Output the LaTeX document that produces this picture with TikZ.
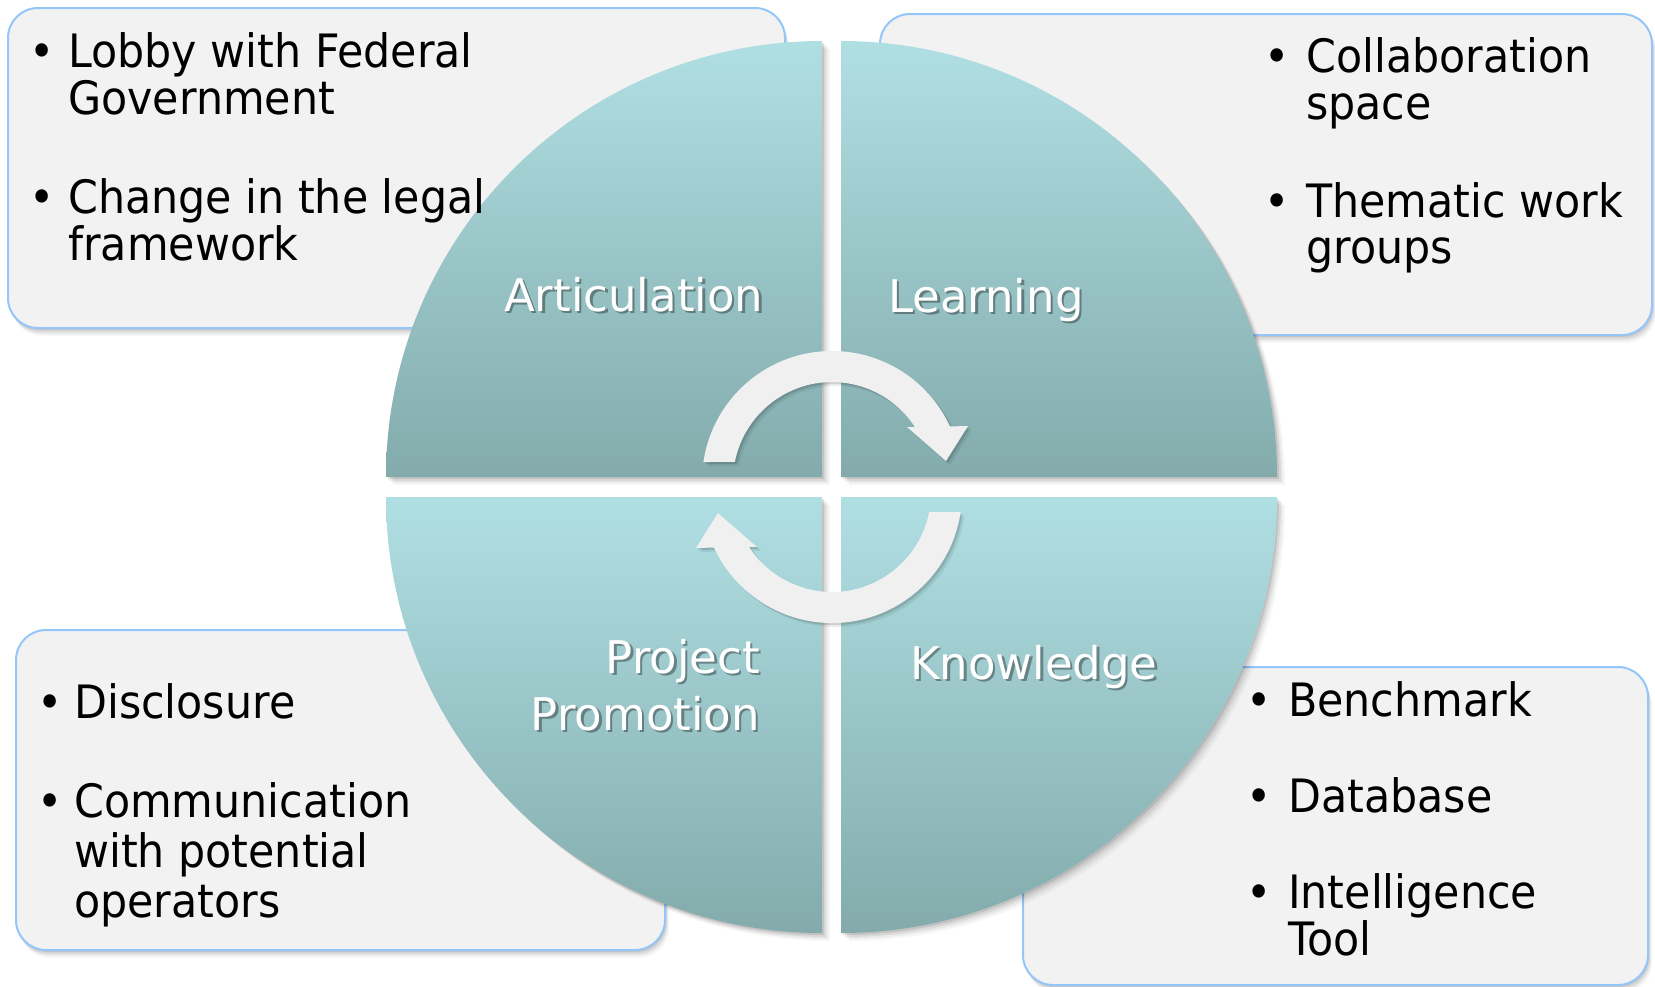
\documentclass[tikz,border=0pt]{standalone}
\usepackage{fontspec}
\setmainfont{DejaVu Sans}
\newfontfamily\bodyfont{DejaVu Sans}[FakeStretch=0.93]
\definecolor{boxfill}{RGB}{242,242,242}
\definecolor{boxline}{RGB}{148,198,250}
\definecolor{qtop}{RGB}{176,223,227}
\definecolor{qbot}{RGB}{131,171,172}
\definecolor{arrowfill}{RGB}{240,240,240}
\begin{document}
\begin{tikzpicture}[x=1pt,y=-1pt,
  infobox/.style={draw=boxline, line width=2pt, fill=boxfill, rounded corners=30pt, inner sep=0pt},
  bodytext/.style={anchor=base west, inner sep=0pt, font=\bodyfont\fontsize{46}{50}\selectfont, text=black},
  bulletdot/.style={anchor=base, inner sep=0pt, font=\bodyfont\fontsize{46}{50}\selectfont, text=black},
  labeltext/.style={inner sep=0pt, font=\fontsize{45}{50}\selectfont, text=white},
  labelshadow/.style={inner sep=0pt, font=\fontsize{45}{50}\selectfont, text=black, opacity=0.35},
  quad/.style={top color=qtop, bottom color=qbot},
  tlq/.style={insert path={(822,477) -- (386,477) arc[start angle=180, end angle=270, radius=436] -- cycle}},
  trq/.style={insert path={(841,477) -- (841,41) arc[start angle=270, end angle=360, radius=436] -- cycle}},
  brq/.style={insert path={(841,497) -- (1277,497) arc[start angle=0, end angle=90, radius=436] -- cycle}},
  blq/.style={insert path={(822,497) -- (822,933) arc[start angle=90, end angle=180, radius=436] -- cycle}},
  arrowpath/.style={insert path={(703.4,462) arc[start angle=188.4, end angle=335.2, radius=130]
      -- (968,426) -- (946,461) -- (907,427) -- (915,427.1)
      arc[start angle=327, end angle=191.1, radius=99] -- cycle}},
]
% background / bounding box
\fill[white] (0,0) rectangle (1655,986);
\useasboundingbox (0,0) rectangle (1655,986);

% ---- boxes with soft shadows ----
\foreach \o/\op in {2/0.09,4/0.07,6/0.05,8/0.03}{
  \fill[black, opacity=\op, rounded corners=30pt, shift={(\o*0.5,\o)}] (8,8) rectangle (785,328);
  \fill[black, opacity=\op, rounded corners=30pt, shift={(\o*0.5,\o)}] (880,14) rectangle (1652,335);
  \fill[black, opacity=\op, rounded corners=30pt, shift={(\o*0.5,\o)}] (16,630) rectangle (665,950);
  \fill[black, opacity=\op, rounded corners=30pt, shift={(\o*0.5,\o)}] (1023,667) rectangle (1648,985);
}
\node[infobox, minimum width=777pt, minimum height=320pt] (boxTL) at (396.5,168) {};
\node[infobox, minimum width=772pt, minimum height=321pt] (boxTR) at (1266,174.5) {};
\node[infobox, minimum width=649pt, minimum height=320pt] (boxBL) at (340.5,790) {};
\node[infobox, minimum width=625pt, minimum height=318pt] (boxBR) at (1335.5,826) {};

% ---- quadrant shadows ----
\foreach \o/\op in {2/0.10,4/0.07,6/0.05,8/0.03}{
  \fill[black, opacity=\op, shift={(\o,\o)}, tlq];
  \fill[black, opacity=\op, shift={(\o,\o)}, trq];
  \fill[black, opacity=\op, shift={(\o,\o)}, brq];
  \fill[black, opacity=\op, shift={(\o,\o)}, blq];
}
% ---- quadrants ----
\shade[quad, tlq];
\shade[quad, trq];
\shade[quad, brq];
\shade[quad, blq];

% ---- cycle arrows ----
\foreach \o/\op in {2/0.12,4/0.07}{
  \fill[black, opacity=\op, shift={(\o,\o)}, arrowpath];
  \begin{scope}[rotate around={180:(832,487)}]
    \fill[black, opacity=\op, shift={(-\o,-\o)}, arrowpath];
  \end{scope}
}
\fill[arrowfill, arrowpath];
\begin{scope}[rotate around={180:(832,487)}]
  \fill[arrowfill, arrowpath];
\end{scope}

% ---- quadrant labels ----
\node[labelshadow, anchor=base west] at (506.5,313.5) {Articulation};
\node[labeltext, anchor=base west] (lArt) at (504,311) {Articulation};
\node[labelshadow, anchor=base west] at (890.5,314.5) {Learning};
\node[labeltext, anchor=base west] (lLea) at (888,312) {Learning};
\node[labelshadow, anchor=base east] at (762.5,675.5) {Project};
\node[labeltext, anchor=base east] (lPro1) at (760,673) {Project};
\node[labelshadow, anchor=base east] at (762.5,732.5) {Promotion};
\node[labeltext, anchor=base east] (lPro2) at (760,730) {Promotion};
\node[labelshadow, anchor=base west] at (912.5,681.5) {Knowledge};
\node[labeltext, anchor=base west] (lKno) at (910,679) {Knowledge};

% ---- top-left box text ----
\node[bulletdot] (tlb1) at (42,67) {•};
\node[bodytext] (tl1a) at (68,67) {Lobby with Federal};
\node[bodytext] (tl1b) at (68,114) {Government};
\node[bulletdot] (tlb2) at (42,213) {•};
\node[bodytext] (tl2a) at (68,213) {Change in the legal};
\node[bodytext] (tl2b) at (68,260) {framework};

% ---- top-right box text ----
\node[bulletdot] (trb1) at (1277,72) {•};
\node[bodytext] (tr1a) at (1306,72) {Collaboration};
\node[bodytext] (tr1b) at (1306,119) {space};
\node[bulletdot] (trb2) at (1277,217) {•};
\node[bodytext] (tr2a) at (1306,217) {Thematic work};
\node[bodytext] (tr2b) at (1306,263) {groups};

% ---- bottom-left box text ----
\node[bulletdot] (blb1) at (50,718) {•};
\node[bodytext] (bl1a) at (74,718) {Disclosure};
\node[bulletdot] (blb2) at (50,817) {•};
\node[bodytext] (bl2a) at (74,817) {Communication};
\node[bodytext] (bl2b) at (74,867) {with potential};
\node[bodytext] (bl2c) at (74,917) {operators};

% ---- bottom-right box text ----
\node[bulletdot] (brb1) at (1259,716) {•};
\node[bodytext] (br1a) at (1288,716) {Benchmark};
\node[bulletdot] (brb2) at (1259,812) {•};
\node[bodytext] (br2a) at (1288,812) {Database};
\node[bulletdot] (brb3) at (1259,908) {•};
\node[bodytext] (br3a) at (1288,908) {Intelligence};
\node[bodytext] (br3b) at (1288,955) {Tool};
\end{tikzpicture}
\end{document}
